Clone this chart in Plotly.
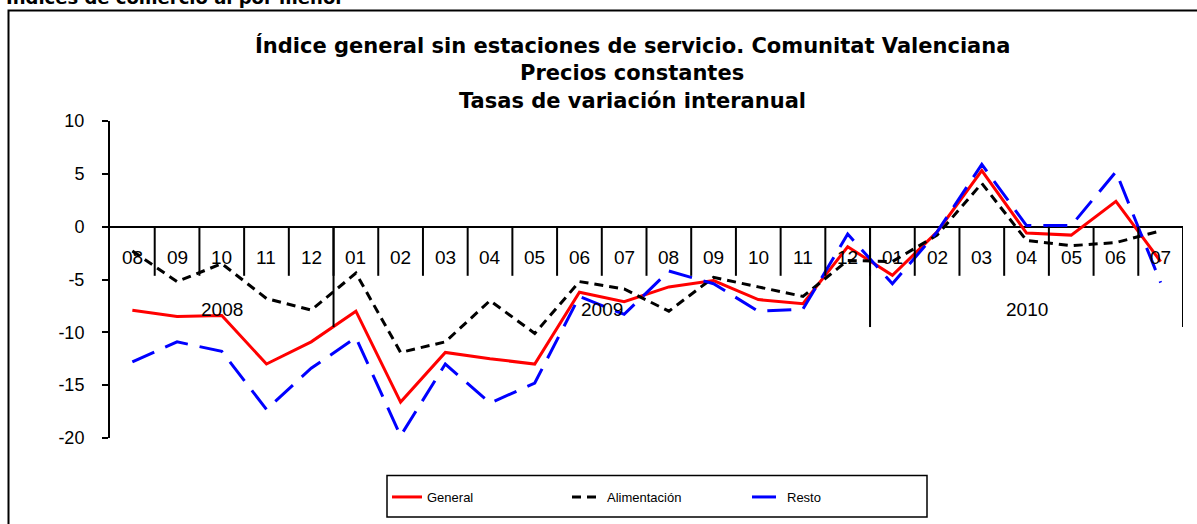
import plotly.graph_objects as go

months = ["08", "09", "10", "11", "12",
          "01", "02", "03", "04", "05", "06", "07", "08", "09", "10", "11", "12",
          "01", "02", "03", "04", "05", "06", "07"]
years = ["2008", "2009", "2010"]
year_counts = [5, 12, 7]
ytick_vals = [-20, -15, -10, -5, 0, 5, 10]
ytick_text = ["-20", "-15", "-10", "-5", "0", "5", "10"]

general = [-7.9, -8.5, -8.4, -13.0, -10.9,
           -8.0, -16.6, -11.9, -12.5, -13.0, -6.2, -7.1, -5.7, -5.1, -6.9, -7.3, -1.9,
           -4.6, -0.5, 5.3, -0.6, -0.8, 2.4, -3.3]
alimentacion = [-2.3, -5.2, -3.5, -6.8, -7.9,
                -4.4, -11.9, -10.9, -7.0, -10.1, -5.2, -5.9, -8.0, -4.8, -5.7, -6.6, -3.2,
                -3.3, -0.8, 4.1, -1.3, -1.8, -1.5, -0.4]
resto = [-12.8, -10.9, -11.8, -17.3, -13.4,
         -10.5, -19.8, -13.0, -16.7, -14.8, -6.6, -8.3, -4.2, -5.4, -8.0, -7.8, -0.7,
         -5.4, -0.5, 5.9, 0.1, 0.1, 5.2, -5.3]

x = list(range(len(months)))

fig = go.Figure()
fig.add_trace(go.Scatter(x=x, y=general, mode="lines", name="General",
                         line=dict(color="#ff0000", width=3)))
fig.add_trace(go.Scatter(x=x, y=alimentacion, mode="lines", name="Alimentación",
                         line=dict(color="#000000", width=3, dash="9px,6px")))
fig.add_trace(go.Scatter(x=x, y=resto, mode="lines", name="Resto",
                         line=dict(color="#0000ff", width=3, dash="24px,12px")))

# pixel -> paper helpers
def px(v):
    return (v - 110) / 1073

def py(v):
    return (438 - v) / 317

shapes = []
# month separators
for k in range(len(months) - 1):
    shapes.append(dict(type="line", xref="x", yref="y", x0=k + 0.5, x1=k + 0.5,
                       y0=0, y1=-4.65, line=dict(color="black", width=2)))
# year separators
b = -0.5
for c in year_counts:
    b += c
    shapes.append(dict(type="line", xref="x", yref="y", x0=b, x1=b,
                       y0=0, y1=-9.5, line=dict(color="black", width=2)))
# outer frame
shapes.append(dict(type="rect", xref="paper", yref="paper",
                   x0=px(8.5), x1=px(1205), y0=py(540), y1=py(10.5),
                   line=dict(color="black", width=2), fillcolor="rgba(0,0,0,0)",
                   layer="below"))
# legend box
shapes.append(dict(type="rect", xref="paper", yref="paper",
                   x0=px(387), x1=px(927), y0=py(517), y1=py(475.5),
                   line=dict(color="black", width=1.5), fillcolor="white",
                   layer="below"))

annotations = []
for k, m in enumerate(months):
    annotations.append(dict(x=k, y=-2.95, xref="x", yref="y", text=m, showarrow=False,
                            font=dict(family="Liberation Sans", size=19, color="black")))
start = 0
for yr, c in zip(years, year_counts):
    center = start + (c - 1) / 2
    if yr == "2008":
        center = start + 2
    annotations.append(dict(x=center, y=-7.8, xref="x", yref="y", text=yr, showarrow=False,
                            font=dict(family="Liberation Sans", size=19, color="black")))
    start += c

titles = ["Índice general sin estaciones de servicio. Comunitat Valenciana",
          "Precios constantes", "Tasas de variación interanual"]
title_y = [46, 73, 101]
for t, tyy in zip(titles, title_y):
    annotations.append(dict(x=px(632), y=py(tyy), xref="paper", yref="paper",
                            text="<b>" + t + "</b>", showarrow=False, xanchor="center",
                            yanchor="middle",
                            font=dict(family="DejaVu Sans", size=21, color="black")))
annotations.append(dict(x=px(4), y=py(10), xref="paper", yref="paper",
                        text="<b>Índices de comercio al por menor</b>", showarrow=False,
                        xanchor="left", yanchor="bottom",
                        font=dict(family="DejaVu Sans", size=18, color="black")))

fig.update_layout(
    width=1197, height=524,
    margin=dict(l=110, r=14, t=121, b=86),
    paper_bgcolor="white", plot_bgcolor="white",
    showlegend=True,
    legend=dict(orientation="h", x=px(657), xanchor="center",
                y=py(497), yanchor="middle",
                borderwidth=0, bgcolor="rgba(0,0,0,0)",
                entrywidth=135, entrywidthmode="pixels",
                font=dict(family="Liberation Sans", size=13, color="black")),
    xaxis=dict(visible=False, range=[-0.5, 23.5], showgrid=False, zeroline=False),
    yaxis=dict(range=[-20, 10], tickvals=ytick_vals, ticktext=ytick_text,
               showgrid=False, zeroline=True, zerolinecolor="black", zerolinewidth=2,
               showline=True, linecolor="black", linewidth=2,
               ticks="outside", ticklen=6, tickwidth=2, tickcolor="black",
               ticklabelstandoff=14,
               tickfont=dict(family="Liberation Sans", size=18, color="black")),
    shapes=shapes,
    annotations=annotations,
)

fig.write_html("out.html", config={"displayModeBar": False},
               post_script="document.body.style.margin='0';document.body.style.overflow='hidden';")
